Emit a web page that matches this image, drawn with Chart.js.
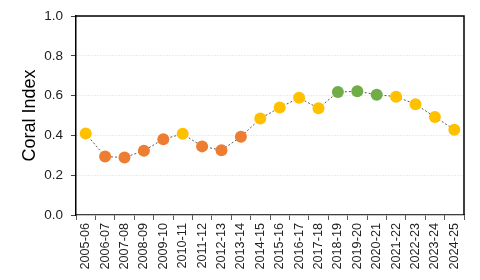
<!DOCTYPE html>
<html>
<head>
<meta charset="utf-8">
<script src="https://cdn.jsdelivr.net/npm/chart.js@4"></script>
<style>
  html, body { margin: 0; padding: 0; background: #fff; }
  #wrap { width: 480px; height: 280px; }
</style>
</head>
<body>
<div id="wrap"><canvas id="chartCoral"></canvas></div>
<script>
const seasons = [
  '2005-06', '2006-07', '2007-08', '2008-09', '2009-10', '2010-11', '2011-12',
  '2012-13', '2013-14', '2014-15', '2015-16', '2016-17', '2017-18', '2018-19',
  '2019-20', '2020-21', '2021-22', '2022-23', '2023-24', '2024-25'
];
const coralIndex = [
  0.41, 0.294, 0.289, 0.323, 0.381, 0.408, 0.345, 0.326, 0.393, 0.485,
  0.54, 0.589, 0.537, 0.618, 0.622, 0.605, 0.595, 0.557, 0.493, 0.429
];
// condition class for each season
const condition = [
  'moderate', 'poor', 'poor', 'poor', 'poor', 'moderate', 'poor', 'poor', 'poor', 'moderate',
  'moderate', 'moderate', 'moderate', 'good', 'good', 'good', 'moderate', 'moderate', 'moderate', 'moderate'
];
const yTicks = [0, 0.2, 0.4, 0.6, 0.8, 1.0];

const conditionColors = { poor: '#ED7D31', moderate: '#FFC000', good: '#70AD47' };
const pointColors = condition.map(c => conditionColors[c]);

const boxPlugin = {
  id: 'boxPlugin',
  afterDraw(chart) {
    const a = chart.chartArea;
    const c = chart.ctx;
    c.save();
    c.strokeStyle = '#000';
    c.lineWidth = 1.5;
    c.beginPath();
    c.moveTo(a.left, a.top);
    c.lineTo(a.right, a.top);
    c.lineTo(a.right, a.bottom);
    c.stroke();
    c.restore();
  }
};

const ctx = document.getElementById('chartCoral').getContext('2d');
new Chart(ctx, {
  type: 'line',
  data: {
    labels: seasons,
    datasets: [{
      data: coralIndex,
      borderColor: '#595959',
      borderWidth: 1,
      borderDash: [2, 2],
      pointBackgroundColor: pointColors,
      pointBorderColor: pointColors,
      pointBorderWidth: 0,
      pointRadius: 6,
      fill: false,
      tension: 0
    }]
  },
  options: {
    responsive: true,
    maintainAspectRatio: false,
    animation: false,
    layout: { padding: { left: 0, top: 15, right: 16, bottom: 0 } },
    plugins: { legend: { display: false }, tooltip: { enabled: false } },
    scales: {
      x: {
        offset: true,
        grid: {
          offset: true,
          drawOnChartArea: false,
          drawTicks: true,
          tickLength: 5,
          tickColor: '#595959'
        },
        border: { color: '#404040', width: 1.2 },
        ticks: {
          autoSkip: false,
          minRotation: 90,
          maxRotation: 90,
          padding: 3,
          color: '#222',
          font: { family: 'Liberation Sans', size: 12.7 }
        },
        afterFit(scale) { scale.height = 65; }
      },
      y: {
        min: 0,
        max: 1,
        afterBuildTicks(scale) { scale.ticks = yTicks.map(v => ({ value: v })); },
        grid: {
          color: '#d9d9d9',
          tickColor: '#404040',
          tickLength: 5,
          tickBorderDash: []
        },
        border: { color: '#000', width: 1.5, dash: [1, 2] },
        ticks: {
          padding: 8,
          color: '#222',
          font: { family: 'Liberation Sans', size: 13.5 },
          callback: v => v.toFixed(1)
        },
        title: {
          display: true,
          text: 'Coral Index',
          color: '#000',
          padding: { top: 19, bottom: 0 },
          font: { family: 'Liberation Sans', size: 18 }
        },
        afterFit(scale) { scale.width = 76; }
      }
    }
  },
  plugins: [boxPlugin]
});
</script>
</body>
</html>
